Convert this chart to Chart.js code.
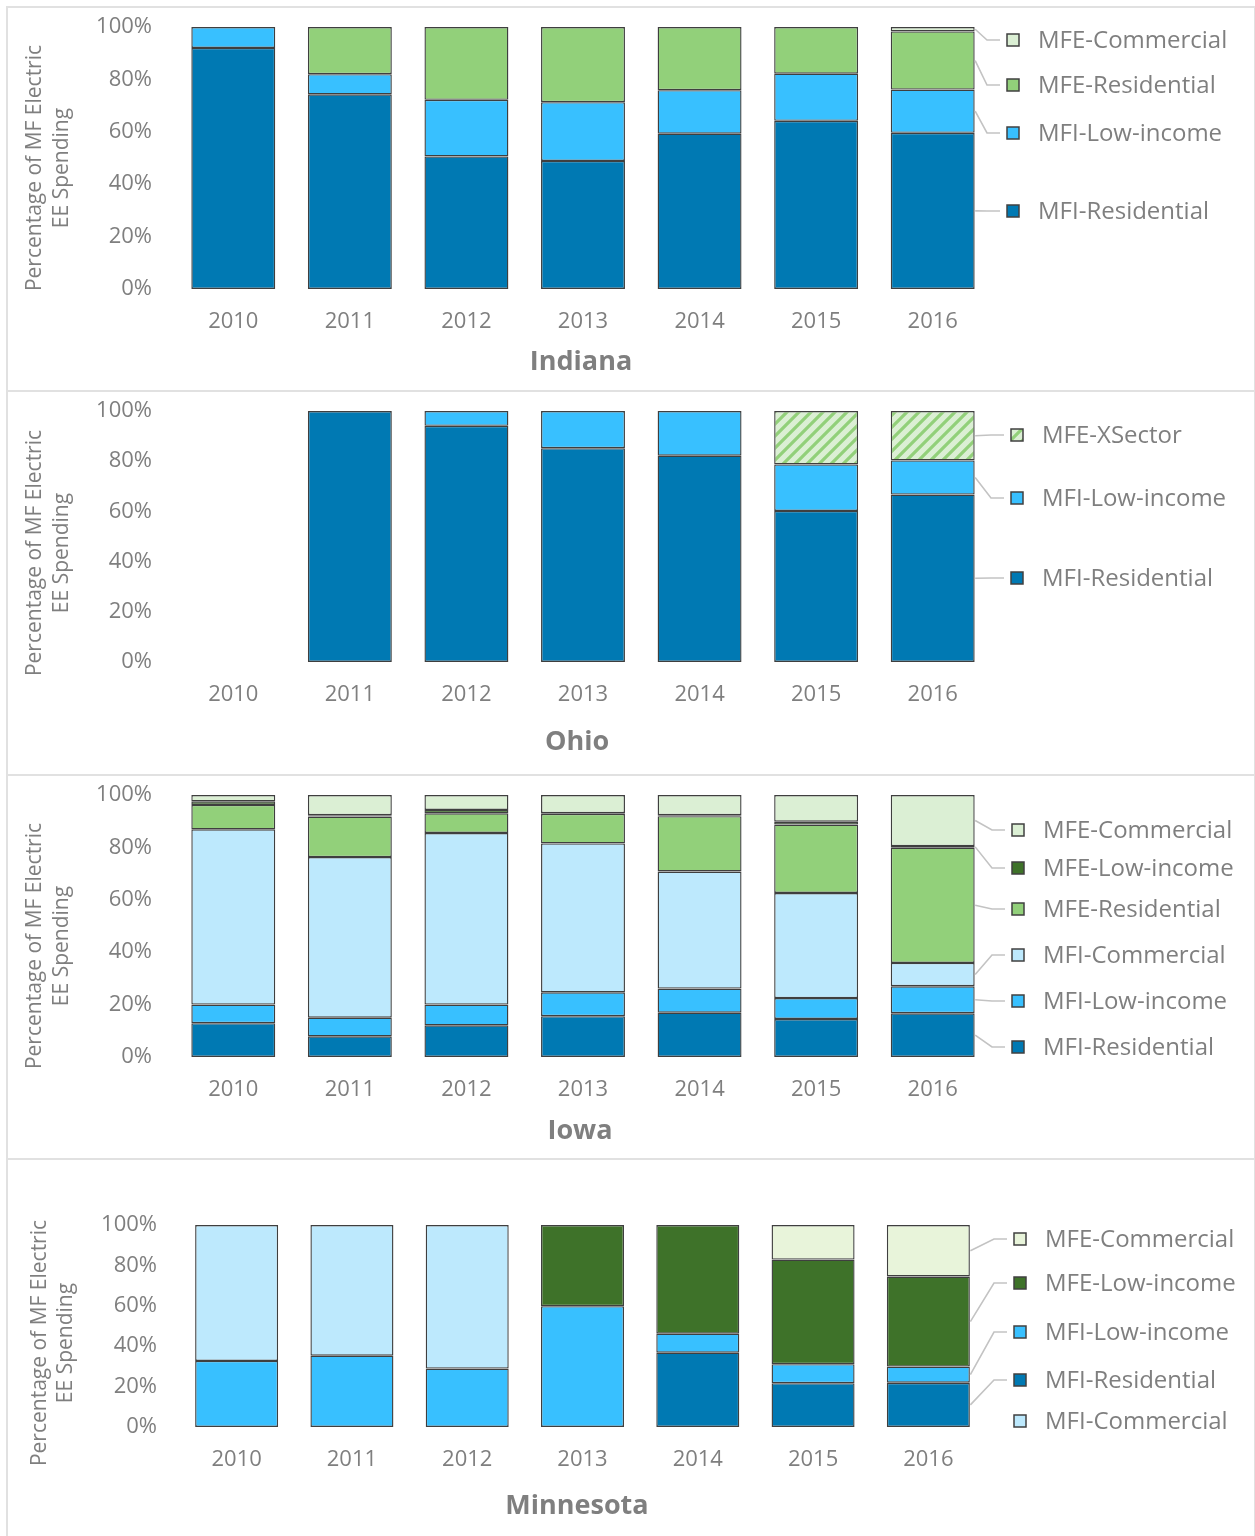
<!DOCTYPE html>
<html>
<head>
<meta charset="utf-8">
<script src="https://cdn.jsdelivr.net/npm/chart.js@4.4.1/dist/chart.umd.min.js"></script>
<style>
  html,body{margin:0;padding:0;background:#fff;}
  #wrap{position:relative;width:1255px;height:1536px;overflow:hidden;background:#fff;}
  .frame{position:absolute;border:2px solid #e1e1e1;}
  .div{position:absolute;background:#e1e1e1;height:2px;}
  canvas{position:absolute;}
</style>
</head>
<body>
<div id="wrap">
  <div class="frame" style="left:6px;top:6px;width:1246px;height:1560px;"></div>
  <div class="div" style="left:6px;top:390px;width:1250px;"></div>
  <div class="div" style="left:6px;top:774px;width:1250px;"></div>
  <div class="div" style="left:6px;top:1158px;width:1250px;"></div>
  <canvas id="c1"></canvas>
  <canvas id="c2"></canvas>
  <canvas id="c3"></canvas>
  <canvas id="c4"></canvas>
</div>
<script>
// ---------- data ----------
const years = ['2010','2011','2012','2013','2014','2015','2016'];
const yTickValues = [0, 20, 40, 60, 80, 100];

const indianaMfiResidential = [92.0, 74.3, 50.6, 48.9, 59.3, 64.2, 59.6];
const indianaMfiLowIncome   = [8.0, 7.7, 21.6, 22.4, 16.6, 18.0, 16.5];
const indianaMfeResidential = [null, 18.0, 27.8, 28.7, 24.1, 17.8, 22.2];
const indianaMfeCommercial  = [null, null, null, null, null, null, 1.7];

const ohioMfiResidential = [null, 100, 94.1, 85.2, 82.2, 60.2, 66.7];
const ohioMfiLowIncome   = [null, null, 5.9, 14.8, 17.8, 18.5, 13.6];
const ohioMfeXSector     = [null, null, null, null, null, 21.3, 19.7];

const iowaMfiResidential = [12.9, 7.9, 12.1, 15.6, 16.9, 14.5, 16.7];
const iowaMfiLowIncome   = [7.1, 7.1, 7.9, 9.1, 9.2, 8.0, 10.3];
const iowaMfiCommercial  = [66.9, 61.3, 65.5, 56.8, 44.7, 40.1, 8.9];
const iowaMfeResidential = [9.3, 15.5, 7.5, 11.3, 21.1, 26.1, 44.0];
const iowaMfeLowIncome   = [1.4, 0.5, 1.3, 0.3, 0.4, 1.1, 0.6];
const iowaMfeCommercial  = [2.4, 7.7, 5.7, 6.9, 7.7, 10.2, 19.5];

const minnMfiResidential = [null, null, null, null, 36.8, 21.7, 21.9];
const minnMfiLowIncome   = [32.7, 35.3, 28.9, 59.8, 9.4, 9.4, 8.0];
const minnMfiCommercial  = [67.3, 64.7, 71.1, null, null, null, null];
const minnMfeLowIncome   = [null, null, null, 40.2, 53.8, 51.8, 44.6];
const minnMfeCommercial  = [null, null, null, null, null, 17.1, 25.5];

// ---------- style ----------
const FONT = "'Open Sans', 'DejaVu Sans', sans-serif";
const TEXT = '#7f7f7f';
const C_MFI_RES = '#0079b3';
const C_MFI_LI  = '#38c0ff';
const C_MFI_COM = '#bde9fd';
const C_MFE_RES = '#92d07a';
const C_MFE_LI  = '#3e7229';
const C_MFE_COM = '#dbefd4';
const C_MFE_COM2 = '#e8f4da';

function hatch() {
  const s = 12;
  const c = document.createElement('canvas');
  c.width = s; c.height = s;
  const x = c.getContext('2d');
  x.fillStyle = '#dbefd4';
  x.fillRect(0, 0, s, s);
  x.strokeStyle = '#92d07a';
  x.lineWidth = 3.2;
  x.beginPath();
  x.moveTo(-2, s + 2); x.lineTo(s + 2, -2);
  x.moveTo(-s/2 - 2, s/2 + 2); x.lineTo(s/2 + 2, -s/2 - 2);
  x.moveTo(s/2 - 2, s*1.5 + 2); x.lineTo(s*1.5 + 2, s/2 - 2);
  x.stroke();
  return x.createPattern(c, 'repeat');
}

function ds(label, data, color) {
  return {
    label, data, backgroundColor: color,
    borderColor: '#3f3f3f', borderWidth: 1.4, borderSkipped: false,
    barPercentage: 0.72, categoryPercentage: 1.0
  };
}

const decor = {
  id: 'decor',
  afterDraw(chart, args, o) {
    const ctx = chart.ctx;
    const ox = o.ox, oy = o.oy;
    ctx.save();
    // y-axis title
    ctx.fillStyle = TEXT;
    ctx.font = '21px ' + FONT;
    ctx.textAlign = 'center';
    ctx.textBaseline = 'middle';
    o.yTitle.lines.forEach((t, i) => {
      ctx.save();
      ctx.translate(o.yTitle.xs[i] - ox, o.yTitle.cy - oy);
      ctx.rotate(-Math.PI / 2);
      ctx.fillText(t, 0, 0);
      ctx.restore();
    });
    // chart title (below axis)
    ctx.font = 'bold 27px ' + FONT;
    ctx.fillText(o.title.text, o.title.x - ox, o.title.y - oy);
    // legend with leader lines
    const last = chart.data.labels.length - 1;
    const mx = o.legend.markerX - ox;
    const tx = o.legend.textX - ox;
    o.legend.items.forEach(it => {
      const d = chart.data.datasets[it.ds];
      const ly = it.y - oy;
      const el = chart.getDatasetMeta(it.ds).data[last];
      const v = d.data[last];
      if (v != null && el) {
        const sx = el.x + el.width / 2 + 0.5;
        const sy = (el.y + el.base) / 2;
        ctx.strokeStyle = '#c3c3c3';
        ctx.lineWidth = 1.6;
        ctx.beginPath();
        ctx.moveTo(sx, sy);
        ctx.lineTo(mx - 26, ly);
        ctx.lineTo(mx - 13, ly);
        ctx.stroke();
      }
      ctx.fillStyle = d.backgroundColor;
      ctx.fillRect(mx - 6, ly - 6, 12, 12);
      ctx.strokeStyle = '#404040';
      ctx.lineWidth = 1.5;
      ctx.strokeRect(mx - 6, ly - 6, 12, 12);
      ctx.fillStyle = TEXT;
      ctx.font = '24px ' + FONT;
      ctx.textAlign = 'left';
      ctx.textBaseline = 'middle';
      ctx.fillText(d.label, tx, ly + 1);
    });
    ctx.restore();
  }
};

function makeChart(id, p) {
  const canvas = document.getElementById(id);
  const cl = 8, cw = 1245;
  const ct = p.plotTop - 60;
  const ch = p.bottom - ct;
  canvas.width = cw; canvas.height = ch;
  canvas.style.left = cl + 'px'; canvas.style.top = ct + 'px';
  canvas.style.width = cw + 'px'; canvas.style.height = ch + 'px';
  return new Chart(canvas, {
    type: 'bar',
    data: { labels: years, datasets: p.datasets },
    options: {
      responsive: false, animation: false, devicePixelRatio: 1,
      layout: { padding: { top: p.plotTop - ct, right: (cl + cw) - p.plotRight, left: 0, bottom: 0 } },
      plugins: {
        legend: { display: false }, tooltip: { enabled: false },
        decor: Object.assign({ ox: cl, oy: ct }, p.decor)
      },
      scales: {
        x: {
          stacked: true,
          grid: { display: false, drawTicks: false }, border: { display: false },
          ticks: { color: TEXT, font: { family: FONT, size: 22 }, padding: 20 },
          afterFit: s => { s.height = (ct + ch) - p.plotBottom; }
        },
        y: {
          stacked: true, min: 0, max: 100,
          afterBuildTicks: s => { s.ticks = yTickValues.map(v => ({ value: v })); },
          grid: { display: false, drawTicks: false }, border: { display: false },
          ticks: { color: TEXT, font: { family: FONT, size: 22 }, padding: p.tickPad, callback: v => v + '%' },
          afterFit: s => { s.width = p.plotLeft - cl; }
        }
      }
    },
    plugins: [decor]
  });
}

const yTitleLines = ['Percentage of MF Electric', 'EE Spending'];

makeChart('c1', {
  bottom: 390, plotTop: 27, plotBottom: 289, plotLeft: 175, plotRight: 991, tickPad: 23,
  datasets: [
    ds('MFI-Residential', indianaMfiResidential, C_MFI_RES),
    ds('MFI-Low-income', indianaMfiLowIncome, C_MFI_LI),
    ds('MFE-Residential', indianaMfeResidential, C_MFE_RES),
    ds('MFE-Commercial', indianaMfeCommercial, C_MFE_COM)
  ],
  decor: {
    yTitle: { lines: yTitleLines, xs: [35, 62], cy: 168 },
    title: { text: 'Indiana', x: 581, y: 362 },
    legend: { markerX: 1013, textX: 1038, items: [ {ds:3,y:40}, {ds:2,y:85}, {ds:1,y:133}, {ds:0,y:211} ] }
  }
});

makeChart('c2', {
  bottom: 774, plotTop: 411, plotBottom: 662, plotLeft: 175, plotRight: 991, tickPad: 23,
  datasets: [
    ds('MFI-Residential', ohioMfiResidential, C_MFI_RES),
    ds('MFI-Low-income', ohioMfiLowIncome, C_MFI_LI),
    ds('MFE-XSector', ohioMfeXSector, hatch())
  ],
  decor: {
    yTitle: { lines: yTitleLines, xs: [35, 62], cy: 553 },
    title: { text: 'Ohio', x: 577, y: 742 },
    legend: { markerX: 1017, textX: 1042, items: [ {ds:2,y:435}, {ds:1,y:498}, {ds:0,y:578} ] }
  }
});

makeChart('c3', {
  bottom: 1158, plotTop: 795, plotBottom: 1057, plotLeft: 175, plotRight: 991, tickPad: 23,
  datasets: [
    ds('MFI-Residential', iowaMfiResidential, C_MFI_RES),
    ds('MFI-Low-income', iowaMfiLowIncome, C_MFI_LI),
    ds('MFI-Commercial', iowaMfiCommercial, C_MFI_COM),
    ds('MFE-Residential', iowaMfeResidential, C_MFE_RES),
    ds('MFE-Low-income', iowaMfeLowIncome, C_MFE_LI),
    ds('MFE-Commercial', iowaMfeCommercial, C_MFE_COM)
  ],
  decor: {
    yTitle: { lines: yTitleLines, xs: [35, 62], cy: 946 },
    title: { text: 'Iowa', x: 580, y: 1131 },
    legend: { markerX: 1018, textX: 1043, items: [ {ds:5,y:830}, {ds:4,y:868}, {ds:3,y:909}, {ds:2,y:955}, {ds:1,y:1001}, {ds:0,y:1047} ] }
  }
});

makeChart('c4', {
  bottom: 1536, plotTop: 1225, plotBottom: 1427, plotLeft: 179, plotRight: 986, tickPad: 22,
  datasets: [
    ds('MFI-Residential', minnMfiResidential, C_MFI_RES),
    ds('MFI-Low-income', minnMfiLowIncome, C_MFI_LI),
    ds('MFI-Commercial', minnMfiCommercial, C_MFI_COM),
    ds('MFE-Low-income', minnMfeLowIncome, C_MFE_LI),
    ds('MFE-Commercial', minnMfeCommercial, C_MFE_COM2)
  ],
  decor: {
    yTitle: { lines: yTitleLines, xs: [40, 66], cy: 1343 },
    title: { text: 'Minnesota', x: 577, y: 1506 },
    legend: { markerX: 1020, textX: 1045, items: [ {ds:4,y:1239}, {ds:3,y:1283}, {ds:1,y:1332}, {ds:0,y:1380}, {ds:2,y:1421} ] }
  }
});
</script>
</body>
</html>
